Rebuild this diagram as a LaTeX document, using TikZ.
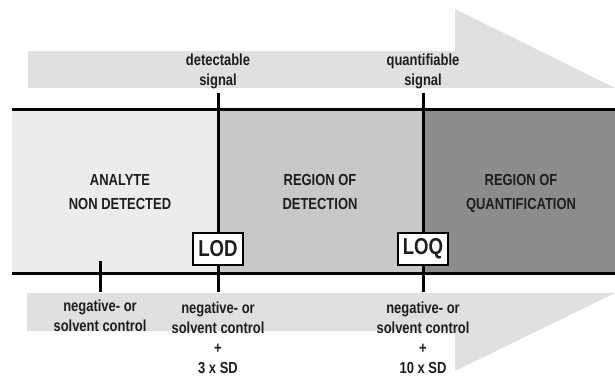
\documentclass[tikz,border=0pt]{standalone}
\usepackage{fontspec}
\setmainfont{Liberation Sans}[FakeStretch=0.81]
\usetikzlibrary{positioning, calc}

\definecolor{arrowgray}{HTML}{E0E0E0}
\definecolor{lowgray}{HTML}{ECECEC}
\definecolor{midgray}{HTML}{C8C8C8}
\definecolor{highgray}{HTML}{8C8C8C}
\definecolor{inkgray}{HTML}{1E1E1E}

\begin{document}
\begin{tikzpicture}[x=1pt, y=-1pt,
  lbl/.style={align=center, inner sep=0pt, anchor=base, text=inkgray,
              font=\bfseries\fontsize{16}{20}\selectfont},
  zonelbl/.style={lbl, font=\bfseries\fontsize{16}{24}\selectfont},
  limitbox/.style={draw, line width=1.6pt, fill=white, inner sep=0pt,
                   minimum width=50pt, minimum height=32pt, text=inkgray,
                   font=\bfseries\fontsize{23}{23}\selectfont},
  bar/.style={line width=3pt, draw=black}]
  \useasboundingbox (0,0) rectangle (615,376);

  % signal arrow (top) and control arrow (bottom)
  \fill[arrowgray] (28,51) -- (455,51) -- (455,9) -- (615,88) -- (28,88) -- cycle;
  \fill[arrowgray] (27,293) -- (615,293) -- (455,371) -- (455,331) -- (27,331) -- cycle;

  % the three zones
  \fill[lowgray]  (12,109) rectangle (218,273);
  \fill[midgray]  (218,109) rectangle (423,273);
  \fill[highgray] (423,109) rectangle (615,273);

  \draw[bar] (12,109) -- (615,109);
  \draw[bar] (12,273) -- (615,273);

  % limit lines
  \coordinate (lodtop) at (218,93);
  \coordinate (lodbot) at (218,292);
  \coordinate (loqtop) at (423,93);
  \coordinate (loqbot) at (423,292);
  \coordinate (negtop) at (100,261);
  \coordinate (negbot) at (100,292);
  \draw[bar] (lodtop) -- (lodbot);
  \draw[bar] (loqtop) -- (loqbot);
  \draw[bar] (negtop) -- (negbot);

  \node[limitbox] (lod) at (218,249) {LOD};
  \node[limitbox] (loq) at (423,249) {LOQ};

  % labels
  \node[lbl] (detsig) at (218,85) {detectable\\signal};
  \node[lbl] (quantsig) at (423,85) {quantifiable\\signal};

  \node[zonelbl] (nondet) at (120,209) {ANALYTE\\NON DETECTED};
  \node[zonelbl] (detzone) at (320,209) {REGION OF\\DETECTION};
  \node[zonelbl] (quantzone) at (521,209) {REGION OF\\QUANTIFICATION};

  \node[lbl] (negctl) at (100,331) {negative- or\\solvent control};
  \node[lbl] (lodctl) at (218,373) {negative- or\\solvent control\\+\\3 x SD};
  \node[lbl] (loqctl) at (423,373) {negative- or\\solvent control\\+\\10 x SD};
\end{tikzpicture}
\end{document}
